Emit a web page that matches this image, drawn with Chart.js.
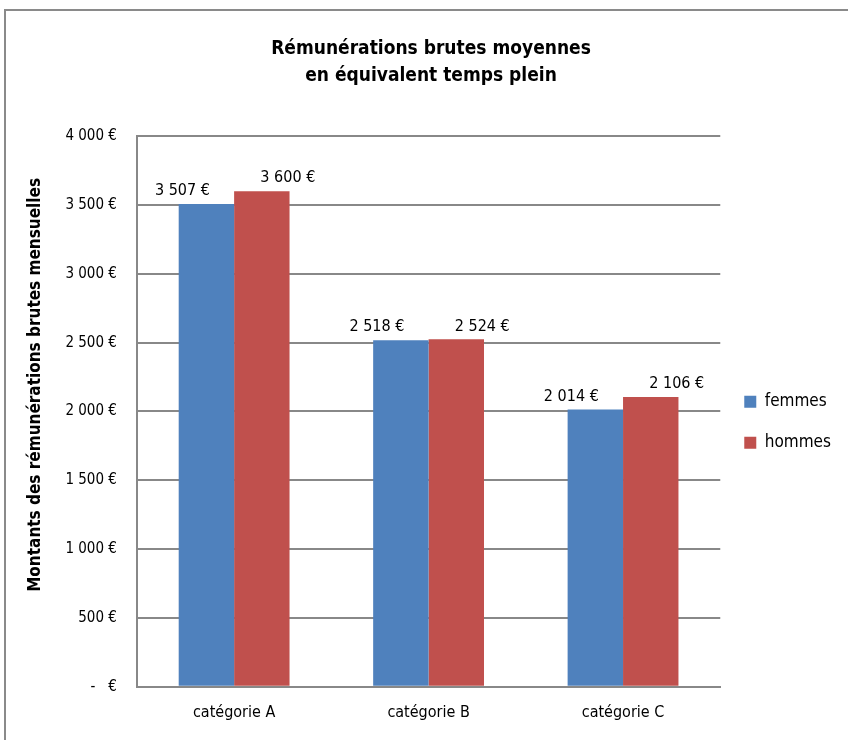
<!DOCTYPE html>
<html>
<head>
<meta charset="utf-8">
<script src="https://cdn.jsdelivr.net/npm/chart.js@4"></script>
<style>
  html, body { margin: 0; padding: 0; background: #fff; }
  #cadre {
    position: absolute; left: 4px; top: 9px;
    width: 900px; height: 800px;
    border: 2px solid #8a8a8a; box-sizing: border-box;
  }
  #zone { position: absolute; left: 0; top: 0; width: 848px; height: 740px; }
</style>
</head>
<body>
<div id="cadre"></div>
<div id="zone"><canvas id="myChart"></canvas></div>
<script>
const categories = ["catégorie A", "catégorie B", "catégorie C"];
const femmes = [3507, 2518, 2014];
const hommes = [3600, 2524, 2106];
const ticksY = [0, 500, 1000, 1500, 2000, 2500, 3000, 3500, 4000];

const police = "'DejaVu Sans Condensed', 'Liberation Sans Narrow', sans-serif";

function euros(v){
    if(v == 0){
        return "-   €";
    }
    return String(v).replace(/\B(?=(\d{3})+(?!\d))/g, " ") + " €";
}

// etiquettes au-dessus des barres
const etiquettes = {
    id: "etiquettes",
    afterDatasetsDraw(chart){
        const c = chart.ctx;
        c.save();
        c.font = "16px " + police;
        c.fillStyle = "#000";
        c.textAlign = "center";
        c.textBaseline = "bottom";
        const decalage = [-24, 26];
        chart.data.datasets.forEach((ds, i) => {
            chart.getDatasetMeta(i).data.forEach((barre, j) => {
                c.fillText(euros(ds.data[j]), barre.x + decalage[i], barre.y - 5);
            });
        });
        c.restore();
    }
};

const ctx = document.getElementById("myChart");

new Chart(ctx, {
    type: "bar",
    data: {
        labels: categories,
        datasets: [
            { label: "femmes", data: femmes, backgroundColor: "#4f81bd" },
            { label: "hommes", data: hommes, backgroundColor: "#c0504d" }
        ]
    },
    options: {
        responsive: true,
        maintainAspectRatio: false,
        animation: false,
        layout: { padding: { left: 21, right: 7, top: 26, bottom: 10 } },
        datasets: { bar: { barPercentage: 1, categoryPercentage: 0.57 } },
        scales: {
            x: {
                grid: { display: false },
                border: { color: "#888", width: 2 },
                ticks: { color: "#000", font: { family: police, size: 16 }, padding: 8 }
            },
            y: {
                min: 0,
                max: 4000,
                afterBuildTicks(axis){
                    axis.ticks = ticksY.map(v => ({ value: v }));
                },
                grid: { color: "#888", lineWidth: 2, drawTicks: false },
                border: { color: "#888", width: 2 },
                ticks: {
                    color: "#000",
                    font: { family: police, size: 15 },
                    padding: 20,
                    callback: v => euros(v)
                },
                title: {
                    display: true,
                    // espaces en tete pour remonter le titre comme dans l'original
                    text: "\u00a0".repeat(10) + "Montants des rémunérations brutes mensuelles",
                    color: "#000",
                    font: { family: police, size: 17, weight: "bold" },
                    padding: { top: 4, bottom: 0 }
                }
            }
        },
        plugins: {
            title: {
                display: true,
                text: ["Rémunérations brutes moyennes", "en équivalent temps plein"],
                color: "#000",
                font: { family: police, size: 19, weight: "bold", lineHeight: 1.4 },
                padding: { top: 10, bottom: 47 }
            },
            legend: {
                position: "right",
                title: {
                    display: true,
                    text: " ",
                    font: { size: 12 },
                    padding: { top: 0, bottom: 74 }
                },
                labels: {
                    color: "#000",
                    boxWidth: 12,
                    boxHeight: 12,
                    padding: 24,
                    font: { family: police, size: 17 }
                }
            },
            tooltip: { enabled: false }
        }
    },
    plugins: [etiquettes]
});
</script>
</body>
</html>
